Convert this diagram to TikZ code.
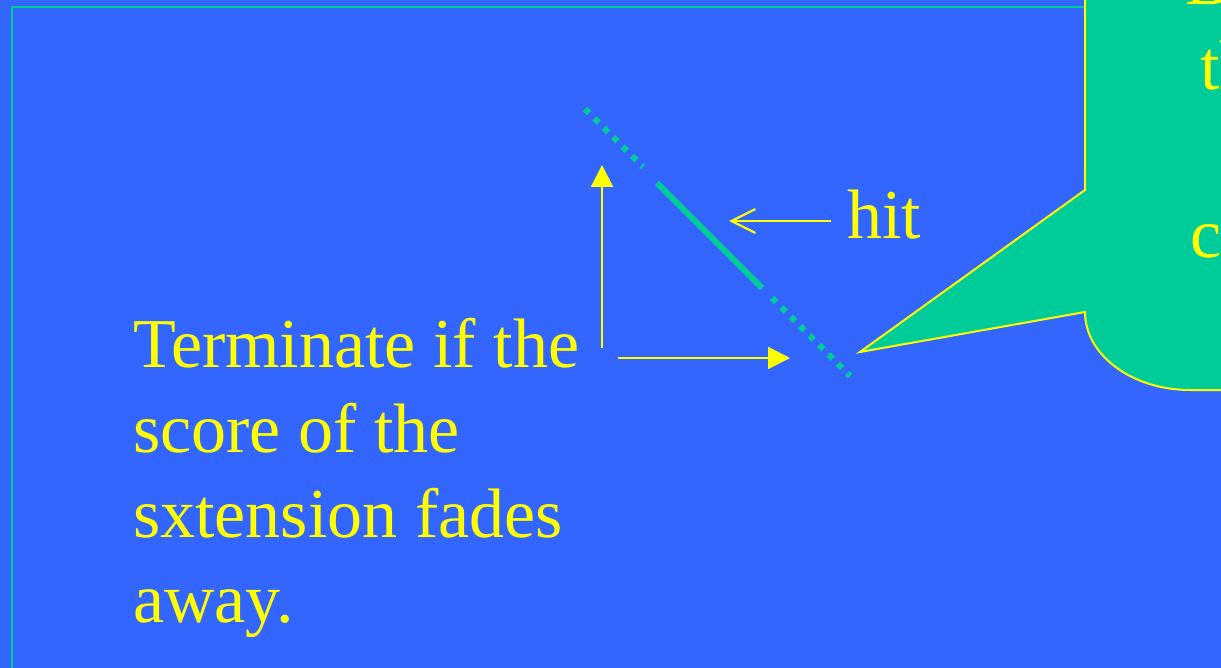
\documentclass[tikz,border=0pt]{standalone}
\usepackage{fontspec}
\setmainfont{Liberation Serif}
\usetikzlibrary{arrows.meta}
\definecolor{slideblue}{HTML}{3366FF}
\definecolor{slideteal}{HTML}{00CC99}
\definecolor{hiyellow}{HTML}{FFFF00}

\tikzset{
  bigtext/.style={text=hiyellow,inner sep=0pt,font=\fontsize{70}{85}\selectfont},
  yarrow/.style={hiyellow,line width=2.2pt,-{Triangle[length=22pt,width=22pt]}},
  dotline/.style={slideteal,line width=6pt,dash pattern=on 6pt off 7.3pt},
}

\begin{document}
\begin{tikzpicture}[x=1pt,y=-1pt]
  \useasboundingbox (0,0) rectangle (1221,668);
  \fill[slideblue] (0,0) rectangle (1221,668);
  % frame of the slide
  \draw[slideteal,line width=2pt] (12,7) rectangle (1400,800);
  % callout balloon
  \filldraw[fill=slideteal,draw=hiyellow,line width=2pt]
    (1085,-100) -- (1085,190) -- (860,352) -- (1085,312)
    .. controls (1085,355) and (1132,390) .. (1190,390)
    -- (1400,390) -- (1400,-100) -- cycle;
  \node[bigtext,anchor=base west] (b) at (1185,5) {B};
  \node[bigtext,anchor=base west] (th) at (1200,90) {th};
  \node[bigtext,anchor=base west] (c) at (1190,258) {c};
  % extension along the diagonal
  \coordinate (d1) at (585,109);
  \coordinate (d2) at (643,167);
  \coordinate (s1) at (657,183);
  \coordinate (s2) at (762,288);
  \coordinate (d3) at (772,298);
  \coordinate (d4) at (850,376);
  \draw[dotline] (d1) -- (d2);
  \draw[slideteal,line width=6pt] (s1) -- (s2);
  \draw[dotline] (d3) -- (d4);
  % labels
  \node[bigtext,anchor=base west,align=left] (term) at (133,622)
    {Terminate if the\\score of the\\sxtension fades\\away.};
  \node[bigtext,anchor=base west] (hit) at (847,239) {hit};
  % arrows
  \coordinate (v0) at (602,348);
  \coordinate (v1) at (602,165);
  \coordinate (h0) at (618,358);
  \coordinate (h1) at (790,358);
  \coordinate (hitstart) at (831,221);
  \coordinate (hitend) at (729,221);
  \draw[yarrow] (v0) -- (v1);
  \draw[yarrow] (h0) -- (h1);
  \draw[hiyellow,line width=2.2pt,-{Straight Barb[length=24pt,width=24pt]}]
    (hitstart) -- (hitend);
\end{tikzpicture}
\end{document}
